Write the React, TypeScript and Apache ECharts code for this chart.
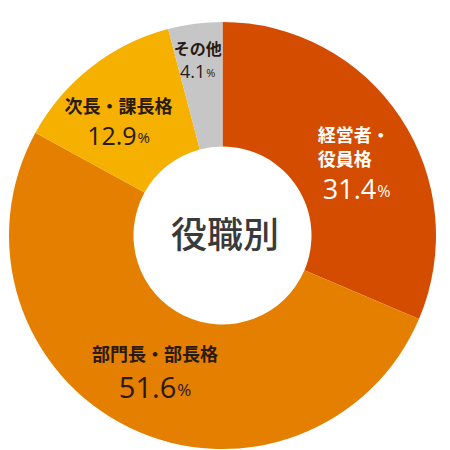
import React, { useEffect, useRef } from 'react';
import * as echarts from 'echarts';

// 役職別の構成比
const names = ['経営者・\n役員格', '部門長・部長格', '次長・課長格', 'その他'];
const values = [31.4, 51.6, 12.9, 4.1];
const colors = ['#d44c00', '#e47f00', '#f5b000', '#c6c6c6'];
const centerTitle = '役職別';

// ラベルの見た目（文字色・サイズ・位置の微調整）
const labelColors = ['#ffffff', '#2a1a10', '#2a1a10', '#2a1a10'];
const numSizes = [27, 29, 25, 18];
const nameSizes = [18, 18, 18, 16];
const numGaps = [10, 14, 10, 6];
const shifts: [number, number][] = [[3, 14], [0, 0], [-9, 9], [-5, -23]];

export default function App() {
  const chartRef = useRef<HTMLDivElement>(null);

  useEffect(() => {
    const chart = echarts.init(chartRef.current!, null, { renderer: 'svg' });

    const data = values.map((v, i) => {
      const align = i === 0 ? 'left' : 'center';
      const numLine = numSizes[i] + numGaps[i];
      return {
        name: names[i],
        value: v,
        itemStyle: { color: colors[i] },
        label: {
          color: labelColors[i],
          formatter: () =>
            names[i]
              .split('\n')
              .map((line) => `{n|${line}}`)
              .join('\n') + `\n{v|${v.toFixed(1)}}{p|%}`,
          rich: {
            n: {
              fontFamily: 'Noto Sans CJK JP',
              fontWeight: 'bold',
              fontSize: nameSizes[i],
              lineHeight: nameSizes[i] + 6,
              color: labelColors[i],
              align,
            },
            v: {
              fontFamily: 'Open Sans',
              fontSize: numSizes[i],
              lineHeight: numLine,
              color: labelColors[i],
              align,
              padding: i === 0 ? [0, 0, 0, 5] : 0,
            },
            p: {
              fontFamily: 'Open Sans',
              fontSize: Math.round(numSizes[i] * 0.6),
              color: labelColors[i],
              verticalAlign: 'bottom',
              padding: [0, 0, Math.round(numGaps[i] / 2 + numSizes[i] * 0.1), 1],
              align,
            },
          },
        },
      };
    });

    chart.setOption({
      animation: false,
      graphic: [
        {
          type: 'text',
          left: 'center',
          top: 214,
          style: {
            text: centerTitle,
            fontFamily: 'Noto Sans CJK JP',
            fontWeight: 500,
            fontSize: 36,
            fill: '#3a3a3a',
          },
        },
      ],
      series: [
        {
          type: 'pie',
          center: [222.5, 235.5],
          radius: [89, 213.5],
          startAngle: 90,
          clockwise: true,
          silent: true,
          label: { show: true, position: 'inside' },
          labelLine: { show: false },
          labelLayout: (params: any) => ({
            dx: shifts[params.dataIndex][0],
            dy: shifts[params.dataIndex][1],
          }),
          data,
        },
      ],
    });

    return () => {
      chart.dispose();
    };
  }, []);

  return (
    <div
      ref={chartRef}
      style={{ position: 'fixed', left: 0, top: 0, width: '450px', height: '450px', background: '#fff' }}
    />
  );
}
